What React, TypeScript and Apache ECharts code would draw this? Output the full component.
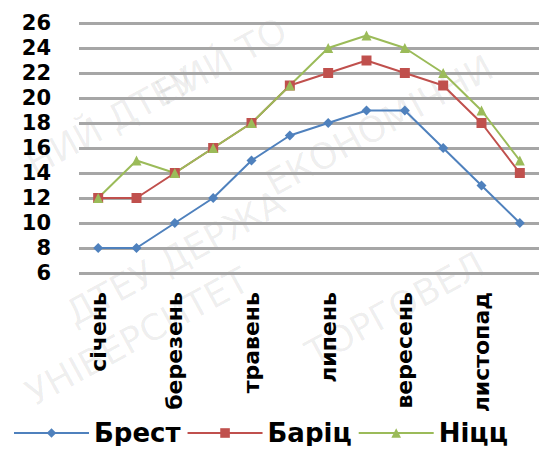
import React, { useEffect, useRef } from "react";
import * as echarts from "echarts";

const months = ["січень", "лютий", "березень", "квітень", "травень", "червень", "липень", "серпень", "вересень", "жовтень", "листопад", "грудень"];
const brest = [8, 8, 10, 12, 15, 17, 18, 19, 19, 16, 13, 10];
const baric = [12, 12, 14, 16, 18, 21, 22, 23, 22, 21, 18, 14];
const nice = [12, 15, 14, 16, 18, 21, 24, 25, 24, 22, 19, 15];
const seriesNames = ["Брест", "Баріц", "Ніцц"];
const watermarkTexts = ["НИЙ ТО", "НИЙ ДТЕУ", "ЕКОНОМІЧНИ", "ДТЕУ ДЕРЖА", "УНІВЕРСИТЕТ", "ТОРГОВЕЛ"];

export default function App() {
  const ref = useRef<HTMLDivElement>(null);
  useEffect(() => {
    if (!ref.current) return;
    const chart = echarts.init(ref.current, null, { renderer: "svg" });
    const font = "DejaVu Sans";
    const colors = ["#4f81bd", "#c0504d", "#9bbb59"];
    const symbols = ["diamond", "rect", "triangle"];
    const datas = [brest, baric, nice];
    const wmPos = [
      [150, 80],
      [20, 150],
      [260, 170],
      [60, 300],
      [20, 380],
      [300, 340],
    ];
    chart.setOption({
      animation: false,
      backgroundColor: "#ffffff",
      graphic: watermarkTexts.map((t, i) => ({
        type: "text",
        silent: true,
        z: -10,
        x: wmPos[i][0],
        y: wmPos[i][1],
        rotation: 0.5,
        style: {
          text: t,
          fontSize: 36,
          fontFamily: font,
          fill: "rgba(0,0,0,0.07)",
        },
      })),
      grid: { left: 79, right: 11, top: 23, bottom: 181, containLabel: false },
      legend: {
        data: seriesNames,
        left: 8,
        bottom: 3,
        width: 900,
        itemWidth: 75,
        itemHeight: 12,
        itemGap: 6,
        textStyle: { fontFamily: font, fontSize: 26, fontWeight: 900, color: "#000" },
      },
      xAxis: {
        type: "category",
        data: months,
        boundaryGap: true,
        axisLine: { show: false },
        axisTick: { show: false },
        axisLabel: {
          rotate: 90,
          interval: 1,
          margin: 19,
          fontFamily: font,
          fontSize: 22,
          fontWeight: 900,
          color: "#000",
        },
      },
      yAxis: {
        type: "value",
        min: 6,
        max: 26,
        interval: 2,
        axisLine: { show: false },
        axisTick: { show: false },
        axisLabel: {
          margin: 28,
          fontFamily: font,
          fontSize: 21,
          fontWeight: 900,
          color: "#000",
        },
        splitLine: { lineStyle: { color: "#a6a6a6", width: 3 } },
      },
      series: seriesNames.map((name, i) => ({
        name,
        type: "line",
        data: datas[i],
        symbol: symbols[i],
        symbolSize: 10,
        showAllSymbol: true,
        itemStyle: { color: colors[i] },
        lineStyle: { color: colors[i], width: 2 },
      })),
    });
    return () => chart.dispose();
  }, []);
  return <div ref={ref} style={{ width: 550, height: 454, margin: -8 }} />;
}
